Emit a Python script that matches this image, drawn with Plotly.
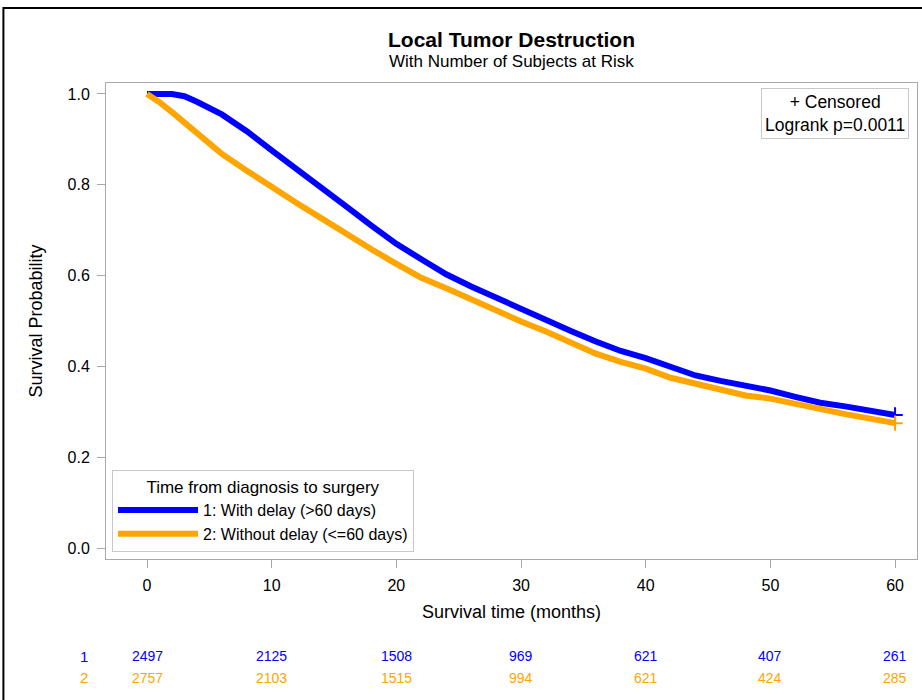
import plotly.graph_objects as go

# --- data ---
months_1 = [0, 2, 3, 4, 6, 8, 10, 12, 14, 16, 18, 20, 22, 24, 26, 28, 30, 32, 34, 36,
            38, 40, 42, 44, 46, 48, 50, 52, 54, 56, 58, 60]
surv_1 = [1.0, 1.0, 0.995, 0.983, 0.955, 0.918, 0.876, 0.836, 0.796, 0.752, 0.710, 0.670,
          0.636, 0.603, 0.576, 0.551, 0.528, 0.502, 0.478, 0.455, 0.434, 0.418, 0.398,
          0.380, 0.368, 0.358, 0.347, 0.333, 0.320, 0.312, 0.302, 0.293]
months_2 = [0, 1, 2, 4, 6, 8, 10, 12, 14, 16, 18, 20, 22, 24, 26, 28, 30, 32, 34, 36,
            38, 40, 42, 44, 46, 48, 50, 52, 54, 56, 58, 60]
surv_2 = [1.0, 0.982, 0.960, 0.913, 0.868, 0.831, 0.794, 0.760, 0.726, 0.691, 0.658, 0.626,
          0.595, 0.572, 0.547, 0.523, 0.499, 0.477, 0.452, 0.428, 0.410, 0.395, 0.375,
          0.361, 0.348, 0.336, 0.329, 0.317, 0.305, 0.295, 0.285, 0.275]

risk_times = [0, 10, 20, 30, 40, 50, 60]
at_risk_1 = [2497, 2125, 1508, 969, 621, 407, 261]
at_risk_2 = [2757, 2103, 1515, 994, 621, 424, 285]

group_names = ["1: With delay (>60 days)", "2: Without delay (<=60 days)"]
group_labels = ["1", "2"]
colors = ["#0000FF", "#FFA500"]

FONT = "Liberation Sans, Arial, sans-serif"
GRID = "#a8a8a8"

fig = go.Figure()
for mx, sv, name, col in [(months_1, surv_1, group_names[0], colors[0]),
                          (months_2, surv_2, group_names[1], colors[1])]:
    fig.add_trace(go.Scatter(
        x=mx, y=sv, mode="lines", name=name,
        line=dict(color=col, width=6),
    ))

# censored end markers
fig.add_trace(go.Scatter(
    x=[months_1[-1], months_2[-1]], y=[surv_1[-1], surv_2[-1]],
    mode="markers", showlegend=False,
    marker=dict(symbol="cross-thin", size=11, line=dict(width=2, color=colors)),
))

annotations = []
# at-risk table
for row_y, label, vals, col in [(-0.204, group_labels[0], at_risk_1, colors[0]),
                                (-0.249, group_labels[1], at_risk_2, colors[1])]:
    annotations.append(dict(x=-0.0271, y=row_y, xref="paper", yref="paper", text=label,
                            showarrow=False, font=dict(family=FONT, size=15, color=col),
                            xanchor="center", yanchor="middle"))
    for t, v in zip(risk_times, vals):
        annotations.append(dict(x=t, y=row_y, xref="x", yref="paper", text=str(v),
                                showarrow=False, font=dict(family=FONT, size=14, color=col),
                                xanchor="center", yanchor="middle"))

# censored / logrank box
annotations.append(dict(x=0.9905, y=0.99, xref="paper", yref="paper",
                        text="+ Censored<br>Logrank p=0.0011", showarrow=False,
                        xanchor="right", yanchor="top", align="center",
                        font=dict(family=FONT, size=17.5, color="#000"),
                        bordercolor="#c8c8c8", borderwidth=1, borderpad=3,
                        bgcolor="white"))

# title and subtitle
annotations.append(dict(x=0.4994, y=1.0924, xref="paper", yref="paper",
                        text="<b>Local Tumor Destruction</b>", showarrow=False,
                        xanchor="center", yanchor="middle",
                        font=dict(family=FONT, size=21, color="#000")))
annotations.append(dict(x=0.4994, y=1.046, xref="paper", yref="paper",
                        text="With Number of Subjects at Risk", showarrow=False,
                        xanchor="center", yanchor="middle",
                        font=dict(family=FONT, size=17, color="#000")))

fig.update_layout(
    width=922, height=700,
    margin=dict(l=106, r=5, t=83, b=141),
    paper_bgcolor="white", plot_bgcolor="white",
    font=dict(family=FONT, size=16, color="#000"),
    xaxis=dict(
        range=[-3.29, 61.76], tickvals=[0, 10, 20, 30, 40, 50, 60],
        showgrid=False, zeroline=False, showline=True, linecolor=GRID, linewidth=1,
        mirror=True, ticks="outside", ticklen=8, tickcolor=GRID,
        tickfont=dict(family=FONT, size=16), ticklabelstandoff=4,
        title=dict(text="Survival time (months)", font=dict(family=FONT, size=18), standoff=12),
    ),
    yaxis=dict(
        range=[-0.0242, 1.0242], tickvals=[0, 0.2, 0.4, 0.6, 0.8, 1.0], tickformat=".1f",
        showgrid=False, zeroline=False, showline=True, linecolor=GRID, linewidth=1,
        mirror=True, ticks="outside", ticklen=8, tickcolor=GRID,
        tickfont=dict(family=FONT, size=16), ticklabelstandoff=4,
        title=dict(text="Survival Probability", font=dict(family=FONT, size=18), standoff=20),
    ),
    legend=dict(
        x=0.0074, y=0.0147, xanchor="left", yanchor="bottom",
        bgcolor="white", bordercolor="#c8c8c8", borderwidth=1,
        title=dict(text="Time from diagnosis to surgery", side="top center",
                   font=dict(family=FONT, size=17)),
        font=dict(family=FONT, size=16), tracegroupgap=0, itemwidth=80,
    ),
    annotations=annotations,
    shapes=[
        dict(type="rect", xref="paper", yref="paper", x0=-0.1265, x1=1.2, y0=1.1575, y1=-0.4,
             line=dict(color="#000", width=2), fillcolor="rgba(0,0,0,0)", layer="above"),
    ],
    showlegend=True,
)

fig.write_html("out.html")
